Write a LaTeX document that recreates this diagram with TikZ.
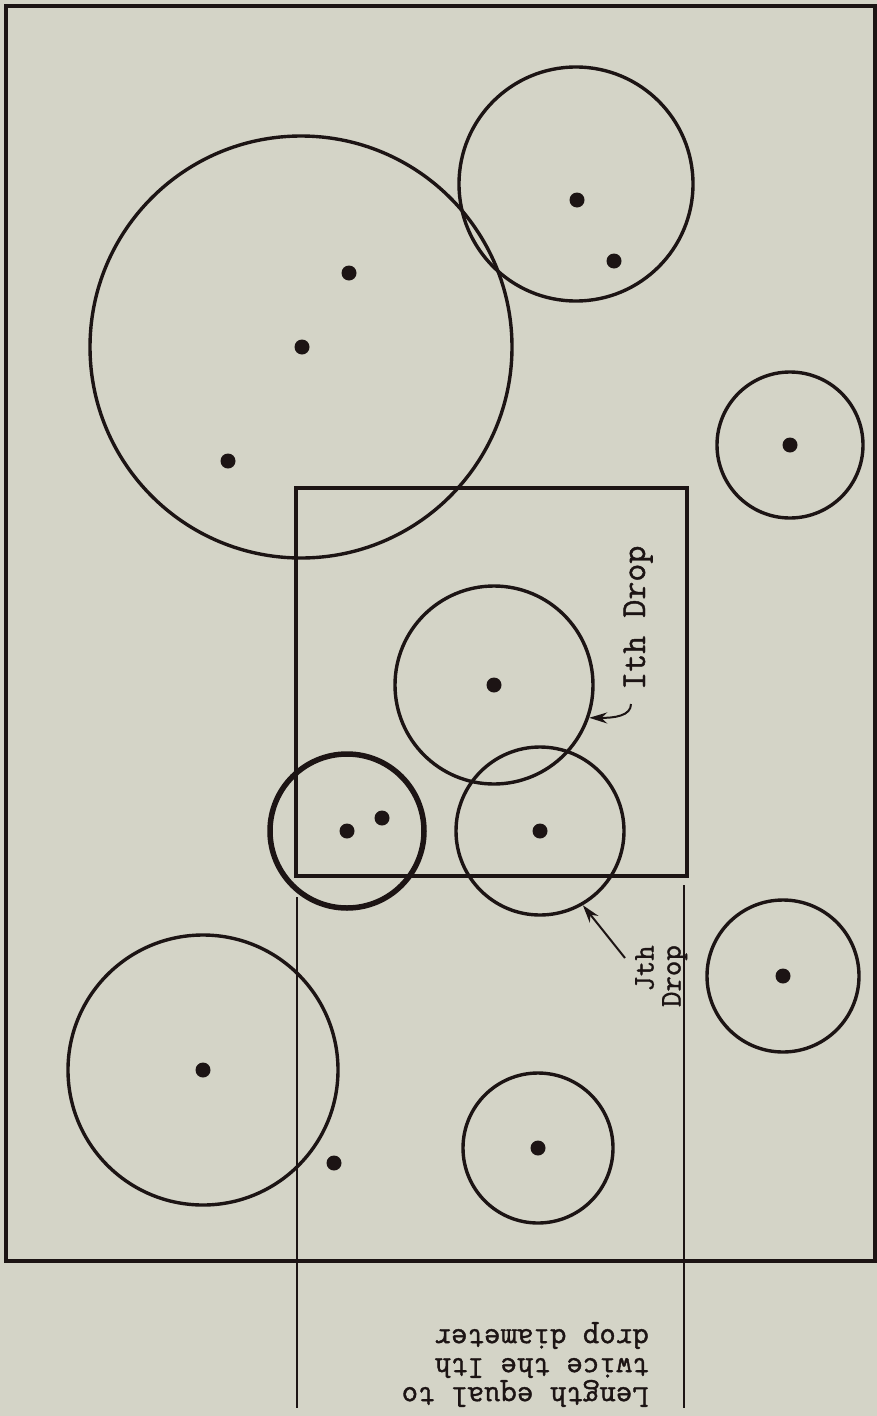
\documentclass[tikz,border=0pt]{standalone}
\usepackage{fontspec}
\setmonofont{Latin Modern Mono}[FakeBold=1.2]
\usetikzlibrary{arrows.meta}

\definecolor{paper}{RGB}{212,212,199}
\definecolor{ink}{RGB}{28,20,20}

\begin{document}
\begin{tikzpicture}[x=1pt, y=-1pt, >={Stealth[length=18pt,width=11pt]}]

% Styles
\tikzset{
  drop/.style={circle, draw=ink, line width=3.4pt, inner sep=0pt, minimum size=#1},
  centre/.style={circle, fill=ink, inner sep=0pt, minimum size=15pt},
  outline/.style={draw=ink, line width=3.6pt},
  guide/.style={draw=ink, line width=2pt},
  pointer/.style={draw=ink, line width=2pt, ->},
  droptext/.style={text=ink, inner sep=0pt,
    font=\ttfamily\fontsize{35}{27}\selectfont},
  jtext/.style={text=ink, inner sep=0pt,
    font=\ttfamily\fontsize{30}{27}\selectfont},
  notetext/.style={text=ink, inner sep=0pt,
    font=\ttfamily\fontsize{32}{29}\selectfont}
}

% Paper
\fill[paper] (0,0) rectangle (877,1416);
\useasboundingbox (0,0) rectangle (877,1416);

% Outer frame and the Ith drop box
\draw[outline] (6,6) rectangle (875,1261);
\draw[outline] (296,488) rectangle (687,876);

% Drops
\node[drop=422pt] (big) at (301,347) {};
\node[drop=234pt] (top) at (576,184) {};
\node[drop=146pt] (east) at (790,445) {};
\node[drop=198pt] (ith) at (494,685) {};
\node[drop=154pt, line width=5.5pt] (near) at (347,831) {};
\node[drop=168pt] (jth) at (540,831) {};
\node[drop=152pt] (southeast) at (783,976) {};
\node[drop=270pt] (southwest) at (203,1070) {};
\node[drop=150pt] (south) at (538,1148) {};

% Drop centres
\foreach \x/\y [count=\i] in {349/273, 302/347, 228/461, 577/200, 614/261,
    790/445, 494/685, 347/831, 382/818, 540/831, 783/976, 203/1070,
    538/1148, 334/1163}
  \node[centre] (c\i) at (\x,\y) {};

% Length guides
\coordinate (gl top) at (297,897);
\coordinate (gl bot) at (297,1408);
\coordinate (gr top) at (684,885);
\coordinate (gr bot) at (684,1408);
\draw[guide] (gl top) -- (gl bot);
\draw[guide] (gr top) -- (gr bot);

% Labels
\node[rotate=90, droptext, anchor=base west] (ilabel) at (645,690) {Ith Drop};
\node[rotate=90, jtext, anchor=north east, align=right] (jlabel) at (635,945)
  {Jth\\Drop};
\node[rotate=180, notetext, anchor=north west, align=left] (length) at (649,1407)
  {Length equal to\\twice the Ith\\drop diameter};

% Pointers
\coordinate (ith tail) at (631,704);
\coordinate (jth tail) at (625,958);
\draw[pointer] (ith tail) .. controls (631,716) and (614,718) .. (ith.-19);
\draw[pointer] (jth tail) -- (jth.-60);

\end{tikzpicture}
\end{document}
